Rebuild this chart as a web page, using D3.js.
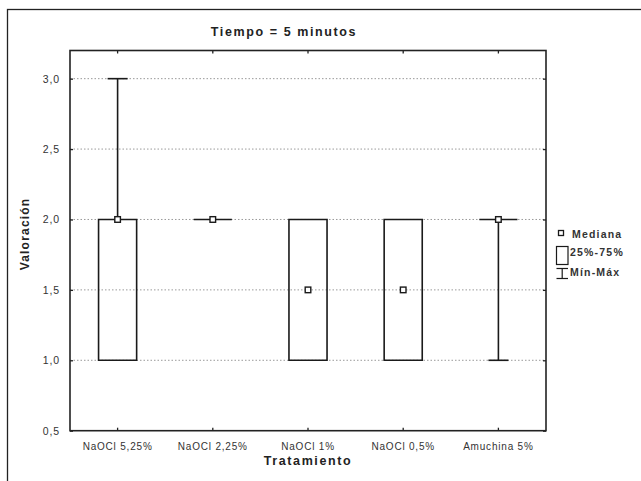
<!DOCTYPE html>
<html>
<head>
<meta charset="utf-8">
<script src="https://cdn.jsdelivr.net/npm/d3@7"></script>
<style>
  html, body { margin: 0; padding: 0; background: #fff; }
  svg { display: block; font-family: "Liberation Sans", Arial, sans-serif; }
</style>
</head>
<body>
<svg id="chart" width="641" height="481"></svg>
<script>
// ---- data ----
const categories = ["NaOCl 5,25%", "NaOCl 2,25%", "NaOCl 1%", "NaOCl 0,5%", "Amuchina 5%"];
const minValues    = [1.0, 2.0, 1.0, 1.0, 1.0];
const q1Values     = [1.0, 2.0, 1.0, 1.0, 2.0];
const medianValues = [2.0, 2.0, 1.5, 1.5, 2.0];
const q3Values     = [2.0, 2.0, 2.0, 2.0, 2.0];
const maxValues    = [3.0, 2.0, 2.0, 2.0, 2.0];
const yTicks = [0.5, 1.0, 1.5, 2.0, 2.5, 3.0];
const gridTicks = [1.0, 1.5, 2.0, 2.5, 3.0];
const legendLabels = ["Mediana", "25%-75%", "Mín-Máx"];
const titleText = "Tiempo = 5 minutos";
const xLabel = "Tratamiento";
const yLabel = "Valoración";

// ---- layout ----
const svg = d3.select("#chart");
const plot = { left: 70, right: 546, top: 50.5, bottom: 430.7 };

const x = d3.scaleBand().domain(categories).range([plot.left, plot.right]).padding(0);
const y = d3.scaleLinear().domain([0.5, 3.2]).range([plot.bottom, plot.top]);

const fmt = d => d3.format(".1f")(d).replace(".", ",");
const boxW = x.bandwidth() * 0.4;
const capW = x.bandwidth() * 0.21;

// outer frame
svg.append("rect").attr("x", 7.5).attr("y", 9.5).attr("width", 700).attr("height", 600)
  .attr("fill", "none").attr("stroke", "#222").attr("stroke-width", 1.3);

// title
svg.append("text").attr("x", 284).attr("y", 36).attr("text-anchor", "middle")
  .attr("font-size", "12.5px").attr("font-weight", "bold").style("letter-spacing", "1.6px")
  .attr("fill", "#222").text(titleText);

// gridlines
svg.append("g").selectAll("line").data(gridTicks).join("line")
  .attr("x1", plot.left).attr("x2", plot.right)
  .attr("y1", d => y(d)).attr("y2", d => y(d))
  .attr("stroke", "#9a9a9a").attr("stroke-width", 1).attr("stroke-dasharray", "1.5,2");

// axes (ticks inward)
const axL = svg.append("g").attr("transform", `translate(${plot.left},0)`)
  .call(d3.axisLeft(y).tickValues(yTicks).tickFormat(fmt).tickSize(-3).tickPadding(10));
const axR = svg.append("g").attr("transform", `translate(${plot.right},0)`)
  .call(d3.axisRight(y).tickValues(yTicks).tickFormat("").tickSize(-3));
const axB = svg.append("g").attr("transform", `translate(0,${plot.bottom})`)
  .call(d3.axisBottom(x).tickSize(-3).tickPadding(12));
const axT = svg.append("g").attr("transform", `translate(0,${plot.top})`)
  .call(d3.axisTop(x).tickFormat("").tickSize(-3));
[axL, axR, axB, axT].forEach(g => {
  g.select(".domain").remove();
  g.selectAll(".tick line").attr("stroke", "#222").attr("stroke-width", 1.3);
  g.selectAll("text").attr("fill", "#333").attr("font-size", "10.5px")
    .attr("font-family", "Liberation Sans, Arial, sans-serif").style("letter-spacing", "0.9px");
});
axB.selectAll("text").attr("font-size", "10px").style("letter-spacing", "0.8px");

// plot frame
svg.append("rect").attr("x", plot.left).attr("y", plot.top)
  .attr("width", plot.right - plot.left).attr("height", plot.bottom - plot.top)
  .attr("fill", "none").attr("stroke", "#222").attr("stroke-width", 1.6);

// axis labels
svg.append("text").attr("x", 308).attr("y", 465).attr("text-anchor", "middle")
  .attr("font-size", "12.5px").attr("font-weight", "bold").style("letter-spacing", "1.6px")
  .attr("fill", "#222").text(xLabel);
svg.append("text").attr("transform", "translate(29,234) rotate(-90)").attr("text-anchor", "middle")
  .attr("font-size", "12px").attr("font-weight", "bold").style("letter-spacing", "1.2px")
  .attr("fill", "#222").text(yLabel);

// boxes
const data = categories.map((c, i) => ({
  c, min: minValues[i], q1: q1Values[i], med: medianValues[i], q3: q3Values[i], max: maxValues[i]
}));
const g = svg.append("g").attr("stroke", "#1a1a1a").attr("stroke-width", 1.6).attr("fill", "none");
const cx = d => x(d.c) + x.bandwidth() / 2;

// whiskers
g.selectAll(".wu").data(data.filter(d => d.max > d.q3)).join("line")
  .attr("x1", cx).attr("x2", cx).attr("y1", d => y(d.q3)).attr("y2", d => y(d.max));
g.selectAll(".wl").data(data.filter(d => d.min < d.q1)).join("line")
  .attr("x1", cx).attr("x2", cx).attr("y1", d => y(d.q1)).attr("y2", d => y(d.min));
// caps
g.selectAll(".cu").data(data.filter(d => d.max > d.q3)).join("line")
  .attr("x1", d => cx(d) - capW / 2).attr("x2", d => cx(d) + capW / 2)
  .attr("y1", d => y(d.max)).attr("y2", d => y(d.max));
g.selectAll(".cl").data(data.filter(d => d.min < d.q1)).join("line")
  .attr("x1", d => cx(d) - capW / 2).attr("x2", d => cx(d) + capW / 2)
  .attr("y1", d => y(d.min)).attr("y2", d => y(d.min));
// boxes (path so collapsed boxes still draw as a line)
g.selectAll(".box").data(data).join("path")
  .attr("d", d => {
    const x0 = cx(d) - boxW / 2, x1 = cx(d) + boxW / 2;
    return `M${x0},${y(d.q3)}H${x1}V${y(d.q1)}H${x0}Z`;
  });
// medians
g.selectAll(".med").data(data).join("rect")
  .attr("x", d => cx(d) - 2.8).attr("y", d => y(d.med) - 2.8)
  .attr("width", 5.6).attr("height", 5.6).attr("fill", "#fff").attr("stroke-width", 1.4);

// legend
const lg = svg.append("g").attr("fill", "#333").attr("font-size", "10.5px")
  .attr("font-weight", "bold").style("letter-spacing", "1.2px");
lg.append("rect").attr("x", 558.5).attr("y", 230.5).attr("width", 5).attr("height", 5)
  .attr("fill", "#fff").attr("stroke", "#1a1a1a").attr("stroke-width", 1.3);
lg.append("rect").attr("x", 556.5).attr("y", 246.5).attr("width", 11.5).attr("height", 18)
  .attr("fill", "none").attr("stroke", "#1a1a1a").attr("stroke-width", 1.2);
lg.append("line").attr("x1", 556.5).attr("x2", 568).attr("y1", 268.5).attr("y2", 268.5)
  .attr("stroke", "#1a1a1a").attr("stroke-width", 1.2);
lg.append("line").attr("x1", 556.5).attr("x2", 568).attr("y1", 278.5).attr("y2", 278.5)
  .attr("stroke", "#1a1a1a").attr("stroke-width", 1.2);
lg.append("line").attr("x1", 562.2).attr("x2", 562.2).attr("y1", 268.5).attr("y2", 278.5)
  .attr("stroke", "#1a1a1a").attr("stroke-width", 1.2);
const legendY = [237.5, 255.5, 275.5];
const legendX = [572, 570, 570];
lg.selectAll("text").data(legendLabels).join("text")
  .attr("x", (d, i) => legendX[i]).attr("y", (d, i) => legendY[i]).text(d => d);
</script>
</body>
</html>
